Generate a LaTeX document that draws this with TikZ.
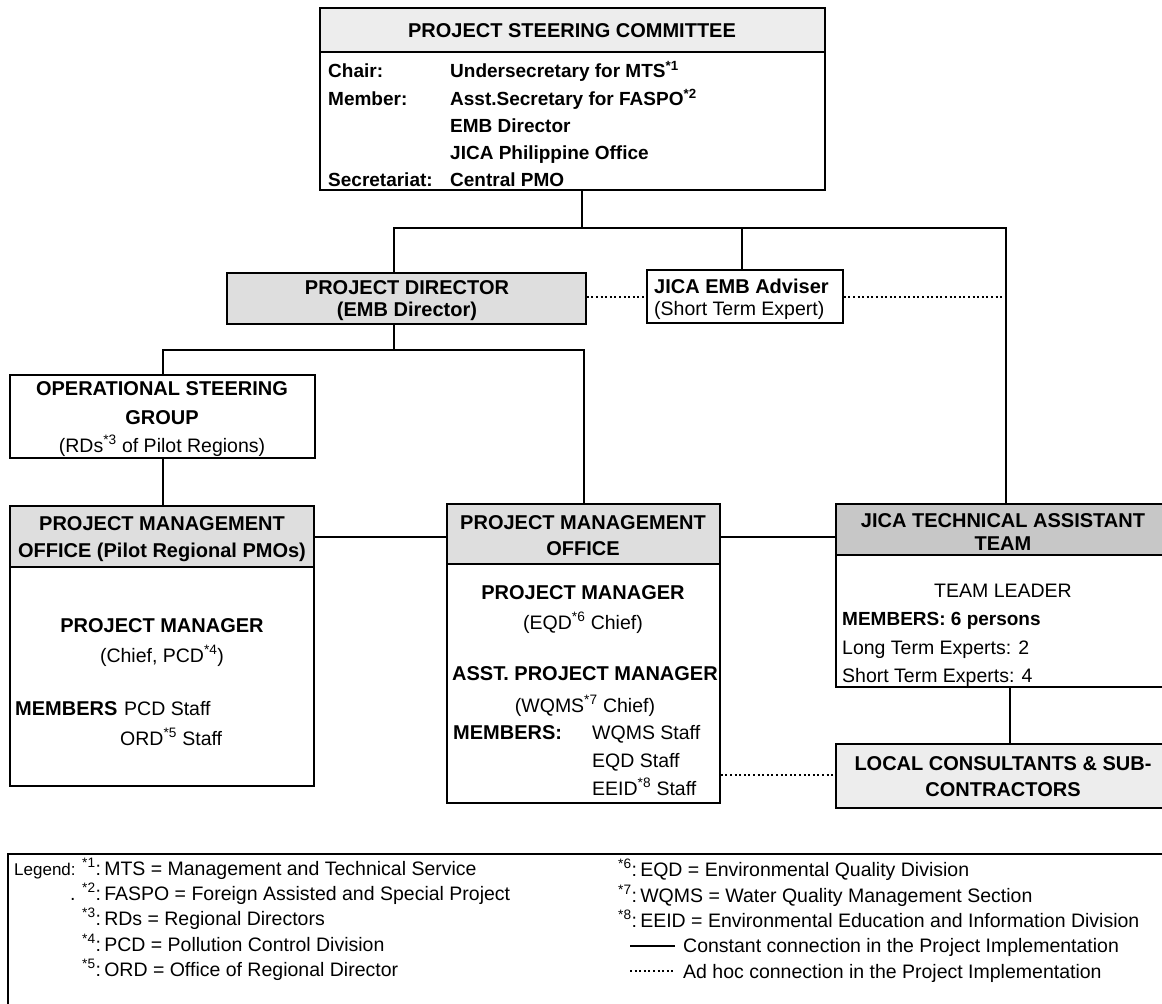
\documentclass[tikz,border=0pt]{standalone}
\usepackage{fontspec}
\setmainfont{Liberation Sans}
\usetikzlibrary{calc}
\newcommand{\fntB}{\fontsize{20}{26}\selectfont\bfseries}
\newcommand{\fntP}{\fontsize{19}{25}\selectfont\bfseries}
\newcommand{\fntR}{\fontsize{19.5}{25}\selectfont}
\newcommand{\fntL}{\fontsize{19.5}{25}\selectfont}
\newcommand{\fntLs}{\fontsize{17}{22}\selectfont}
\tikzset{
  conn/.style={line width=2.5pt},
  adhoc/.style={line width=2.3pt, dash pattern=on 2pt off 2.6pt},
  boxn/.style={draw, line width=1.6pt, inner sep=0pt},
  divl/.style={line width=1.6pt},
  hdrA/.style={fill=black!7},
  hdrB/.style={fill=black!13},
  hdrC/.style={fill=black!22},
  bt/.style={font=\fntB, inner sep=0pt, anchor=base},
  btw/.style={font=\fntB, inner sep=0pt, anchor=base west},
  pbw/.style={font=\fntP, inner sep=0pt, anchor=base west},
  rt/.style={font=\fntR, inner sep=0pt, anchor=base},
  rtw/.style={font=\fntR, inner sep=0pt, anchor=base west},
  lgw/.style={font=\fntL, inner sep=0pt, anchor=base west},
}
\begin{document}
\begin{tikzpicture}[x=1pt,y=-1pt]
\useasboundingbox (0,0) rectangle (1162,1004);
\clip (0,0) rectangle (1162,1004);
\fill[white] (0,0) rectangle (1162,1004);

% ---------- header fills ----------
\fill[hdrA] (320,8) rectangle (825,52);
\fill[hdrB] (227,273) rectangle (586,324);
\fill[hdrB] (10,506) rectangle (314,567);
\fill[hdrB] (447,504) rectangle (720,564);
\fill[hdrC] (836,504) rectangle (1170,555);
\fill[hdrA] (836,744) rectangle (1170,808);

% ---------- boxes ----------
\node[boxn, minimum width=505pt, minimum height=182pt] (psc) at (572.5,99) {};
\node[boxn, minimum width=359pt, minimum height=51pt] (pd) at (406.5,298.5) {};
\node[boxn, minimum width=196pt, minimum height=53pt] (adv) at (745,296.5) {};
\node[boxn, minimum width=305pt, minimum height=83pt] (osg) at (162.5,416.5) {};
\node[boxn, minimum width=304pt, minimum height=280pt] (lpmo) at (162,646) {};
\node[boxn, minimum width=273pt, minimum height=299pt] (mpmo) at (583.5,653.5) {};
\node[boxn, minimum width=334pt, minimum height=183pt] (tat) at (1003,595.5) {};
\node[boxn, minimum width=334pt, minimum height=64pt] (lc) at (1003,776) {};
\node[boxn, minimum width=1167pt, minimum height=161pt] (leg) at (591.5,934.5) {};

% header dividers
\draw[divl] (psc.west |- 0,52) -- (psc.east |- 0,52);
\draw[divl] (lpmo.west |- 0,567) -- (lpmo.east |- 0,567);
\draw[divl] (mpmo.west |- 0,564) -- (mpmo.east |- 0,564);
\draw[divl] (tat.west |- 0,555) -- (tat.east |- 0,555);

% ---------- connectors ----------
\coordinate (jA) at (582,228);
\coordinate (jL) at (394,228);
\coordinate (jM) at (742,228);
\coordinate (jR) at (1006,228);
\draw[conn] (psc.south -| jA) -- (jA);
\draw[conn] (pd.north -| jL) -- (jL) -- (jR) -- (tat.north -| jR);
\draw[conn] (adv.north -| jM) -- (jM);
\coordinate (kL) at (163,350);
\coordinate (kM) at (394,350);
\coordinate (kR) at (584,350);
\draw[conn] (pd.south -| kM) -- (kM);
\draw[conn] (osg.north -| kL) -- (kL) -- (kR) -- (mpmo.north -| kR);
\draw[conn] (osg.south -| kL) -- (lpmo.north -| kL);
\coordinate (row) at (0,537);
\draw[conn] (lpmo.east |- row) -- (mpmo.west |- row);
\draw[conn] (mpmo.east |- row) -- (tat.west |- row);
\coordinate (tl) at (1010,0);
\draw[conn] (tat.south -| tl) -- (lc.north -| tl);
\coordinate (drow) at (0,297);
\draw[adhoc] (pd.east |- drow) -- (adv.west |- drow);
\draw[adhoc] (adv.east |- drow) -- (jR |- drow);
\coordinate (lcrow) at (0,775);
\draw[adhoc] (mpmo.east |- lcrow) -- (lc.west |- lcrow);

% ---------- texts: steering committee ----------
\node[bt] (pscT) at (572,37) {PROJECT STEERING COMMITTEE};
\node[pbw] (pscL1) at (328,77) {Chair:};
\node[pbw] (pscL2) at (328,105) {Member:};
\node[pbw] (pscL3) at (328,186) {Secretariat:};
\node[pbw] (pscR1) at (450,77) {Undersecretary for MTS\textsuperscript{*1}};
\node[pbw] (pscR2) at (450,105) {Asst.Secretary for FASPO\textsuperscript{*2}};
\node[pbw] (pscR3) at (450,132) {EMB Director};
\node[pbw] (pscR4) at (450,159) {JICA Philippine Office};
\node[pbw] (pscR5) at (450,186) {Central PMO};

% director / adviser
\node[bt] (pdT1) at (407,294) {PROJECT DIRECTOR};
\node[bt] (pdT2) at (407,316) {(EMB Director)};
\node[btw] (advT1) at (654,293) {JICA EMB Adviser};
\node[rtw] (advT2) at (654,315) {(Short Term Expert)};

% operational steering group
\node[bt] (osgT1) at (162,395) {OPERATIONAL STEERING};
\node[bt] (osgT2) at (162,424) {GROUP};
\node[rt] (osgT3) at (162,452) {(RDs\textsuperscript{*3} of Pilot Regions)};

% left PMO
\node[bt] (lpT1) at (162,530) {PROJECT MANAGEMENT};
\node[bt] (lpT2) at (162,557) {OFFICE (Pilot Regional PMOs)};
\node[bt] (lpT3) at (162,632) {PROJECT MANAGER};
\node[rt] (lpT4) at (162,662) {(Chief, PCD\textsuperscript{*4})};
\node[btw] (lpT5) at (15,715) {MEMBERS};
\node[rtw] (lpT6) at (124,715) {PCD Staff};
\node[rtw] (lpT7) at (120,745) {ORD\textsuperscript{*5} Staff};

% middle PMO
\node[bt] (mpT1) at (583,529) {PROJECT MANAGEMENT};
\node[bt] (mpT2) at (583,555) {OFFICE};
\node[bt] (mpT3) at (583,599) {PROJECT MANAGER};
\node[rt] (mpT4) at (583,629) {(EQD\textsuperscript{*6} Chief)};
\node[bt] (mpT5) at (585,680) {ASST. PROJECT MANAGER};
\node[rt] (mpT6) at (585,712) {(WQMS\textsuperscript{*7} Chief)};
\node[btw] (mpT7) at (453,739) {MEMBERS:};
\node[rtw] (mpT8) at (592,739) {WQMS Staff};
\node[rtw] (mpT9) at (592,767) {EQD Staff};
\node[rtw] (mpT10) at (592,795) {EEID\textsuperscript{*8} Staff};

% JICA technical assistant team
\node[bt] (taT1) at (1003,527) {JICA TECHNICAL ASSISTANT};
\node[bt] (taT2) at (1003,550) {TEAM};
\node[rt] (taT3) at (1003,597) {TEAM LEADER};
\node[pbw] (taT4) at (842,625) {MEMBERS: 6 persons};
\node[rtw] (taT5) at (842,654) {Long Term Experts: 2};
\node[rtw] (taT6) at (842,682) {Short Term Experts: 4};

% local consultants
\node[bt] (lcT1) at (1003,770) {LOCAL CONSULTANTS \& SUB-};
\node[bt] (lcT2) at (1003,796) {CONTRACTORS};

% ---------- legend ----------
\node[lgw, font=\fntLs] (lg0) at (14,875) {Legend:};
\node[lgw] (lg1) at (82,875) {\textsuperscript{*1}:\,MTS = Management and Technical Service};
\node[lgw] (lgdot) at (70,900) {.};
\node[lgw] (lg2) at (82,900) {\textsuperscript{*2}:\,FASPO = Foreign Assisted and Special Project};
\node[lgw] (lg3) at (82,925) {\textsuperscript{*3}:\,RDs = Regional Directors};
\node[lgw] (lg4) at (82,951) {\textsuperscript{*4}:\,PCD = Pollution Control Division};
\node[lgw] (lg5) at (82,976) {\textsuperscript{*5}:\,ORD = Office of Regional Director};
\node[lgw] (lg6) at (618,876) {\textsuperscript{*6}:\,EQD = Environmental Quality Division};
\node[lgw] (lg7) at (618,902) {\textsuperscript{*7}:\,WQMS = Water Quality Management Section};
\node[lgw] (lg8) at (618,927) {\textsuperscript{*8}:\,EEID = Environmental Education and Information Division};
\coordinate (sA) at (630,946);
\coordinate (sB) at (675,946);
\draw[conn] (sA) -- (sB);
\node[lgw] (lg9) at (683,952) {Constant connection in the Project Implementation};
\coordinate (dA) at (630,971);
\coordinate (dB) at (675,971);
\draw[adhoc] (dA) -- (dB);
\node[lgw] (lg10) at (683,978) {Ad hoc connection in the Project Implementation};
\end{tikzpicture}
\end{document}
